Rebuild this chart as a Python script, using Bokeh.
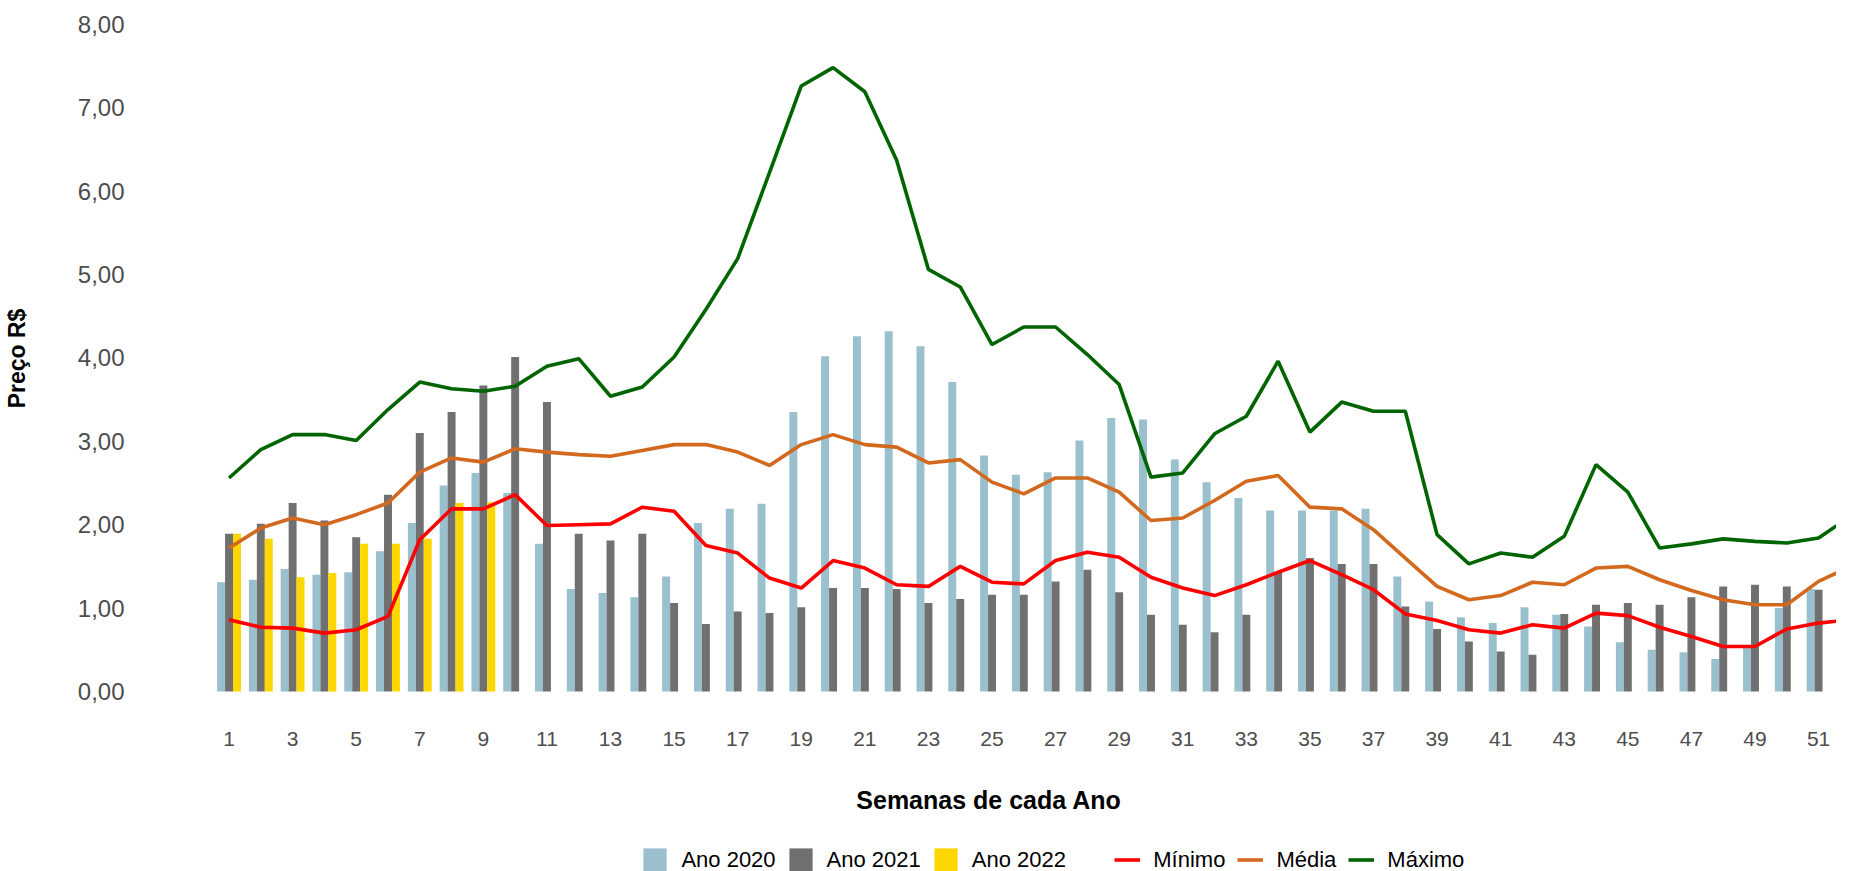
from bokeh.plotting import figure
from bokeh.models import ColumnDataSource, Range1d, FixedTicker, Legend, LegendItem
from bokeh.transform import dodge
from bokeh.layouts import column
from bokeh.embed import file_html
from bokeh.resources import INLINE

# ---------------- data ----------------
semanas = list(range(1, 53))
ano_2020 = [1.31, 1.34, 1.47, 1.40, 1.43, 1.68, 2.02, 2.47, 2.62, 2.38,
            1.77, 1.23, 1.18, 1.13, 1.38, 2.02, 2.19, 2.25, 3.35, 4.02,
            4.26, 4.32, 4.14, 3.71, 2.83, 2.60, 2.63, 3.01, 3.28, 3.26,
            2.78, 2.51, 2.32, 2.17, 2.17, 2.17, 2.19, 1.38, 1.08, 0.89,
            0.82, 1.01, 0.92, 0.78, 0.59, 0.50, 0.47, 0.39, 0.55, 1.00,
            1.23, 1.44]
ano_2021 = [1.89, 2.01, 2.26, 2.05, 1.85, 2.36, 3.10, 3.35, 3.67, 4.01,
            3.47, 1.89, 1.81, 1.89, 1.06, 0.81, 0.96, 0.94, 1.01, 1.24,
            1.24, 1.23, 1.06, 1.11, 1.16, 1.16, 1.32, 1.46, 1.19, 0.92,
            0.80, 0.71, 0.92, 1.43, 1.60, 1.53, 1.53, 1.02, 0.75, 0.60,
            0.48, 0.44, 0.93, 1.04, 1.06, 1.04, 1.13, 1.26, 1.28, 1.26,
            1.22, 1.30]
semanas_2022 = list(range(1, 10))
ano_2022 = [1.89, 1.83, 1.37, 1.42, 1.77, 1.77, 1.83, 2.26, 2.27]
minimo = [0.86, 0.77, 0.76, 0.70, 0.74, 0.90, 1.82, 2.19, 2.19, 2.36,
          1.99, 2.00, 2.01, 2.21, 2.16, 1.75, 1.66, 1.36, 1.24, 1.57,
          1.48, 1.28, 1.26, 1.50, 1.31, 1.29, 1.57, 1.67, 1.61, 1.37,
          1.24, 1.15, 1.28, 1.43, 1.57, 1.40, 1.22, 0.93, 0.85, 0.74,
          0.70, 0.80, 0.76, 0.94, 0.91, 0.77, 0.66, 0.54, 0.54, 0.75,
          0.82, 0.86]
media = [1.72, 1.96, 2.08, 2.00, 2.12, 2.26, 2.63, 2.80, 2.75, 2.91,
         2.87, 2.84, 2.82, 2.89, 2.96, 2.96, 2.87, 2.71, 2.96, 3.08,
         2.96, 2.93, 2.74, 2.78, 2.51, 2.37, 2.56, 2.56, 2.39, 2.05,
         2.08, 2.29, 2.52, 2.59, 2.21, 2.19, 1.94, 1.60, 1.26, 1.10,
         1.15, 1.31, 1.28, 1.48, 1.50, 1.34, 1.21, 1.10, 1.04, 1.04,
         1.32, 1.50]
maximo = [2.56, 2.90, 3.08, 3.08, 3.01, 3.38, 3.71, 3.63, 3.60, 3.66,
          3.90, 3.99, 3.54, 3.65, 4.01, 4.58, 5.19, 6.22, 7.26, 7.48,
          7.19, 6.37, 5.06, 4.85, 4.16, 4.37, 4.37, 4.04, 3.68, 2.57,
          2.62, 3.09, 3.30, 3.96, 3.11, 3.47, 3.36, 3.36, 1.88, 1.53,
          1.66, 1.61, 1.86, 2.72, 2.39, 1.72, 1.77, 1.83, 1.80, 1.78,
          1.84, 2.10]
x_ticks = list(range(1, 52, 2))
y_ticks = [0, 1, 2, 3, 4, 5, 6, 7, 8]
y_tick_labels = ["0,00", "1,00", "2,00", "3,00", "4,00", "5,00", "6,00", "7,00", "8,00"]

C2020, C2021, C2022 = "#9ABFCD", "#707070", "#FFD700"
CMIN, CMED, CMAX = "#FF0000", "#D2691E", "#006400"
LW = 3.6
FONT = "Liberation Sans"

src = ColumnDataSource(dict(semana=semanas, a2020=ano_2020, a2021=ano_2021,
                            minimo=minimo, media=media, maximo=maximo))
src22 = ColumnDataSource(dict(semana=semanas_2022, a2022=ano_2022))


def draw_series(fig):
    r20 = fig.vbar(x=dodge("semana", -0.25), top="a2020", bottom=0, width=0.25,
                   source=src, fill_color=C2020, line_color=None)
    r21 = fig.vbar(x=dodge("semana", 0.0), top="a2021", bottom=0, width=0.25,
                   source=src, fill_color=C2021, line_color=None)
    r22 = fig.vbar(x=dodge("semana", 0.25), top="a2022", bottom=0, width=0.25,
                   source=src22, fill_color=C2022, line_color=None)
    rmin = fig.line("semana", "minimo", source=src, line_color=CMIN, line_width=LW)
    rmed = fig.line("semana", "media", source=src, line_color=CMED, line_width=LW)
    rmax = fig.line("semana", "maximo", source=src, line_color=CMAX, line_width=LW)
    return r20, r21, r22, rmin, rmed, rmax


# ---------------- main figure ----------------
p = figure(width=1836, height=828, output_backend="svg", toolbar_location=None,
           x_range=Range1d(-1.7535, 51.564), y_range=Range1d(-0.1079, 8.0926),
           min_border_left=132, min_border_right=0, min_border_top=16,
           min_border_bottom=128, background_fill_color="white",
           border_fill_color="white", outline_line_color=None)
draw_series(p)

p.xgrid.grid_line_color = None
p.ygrid.grid_line_color = None
for ax in (p.xaxis[0], p.yaxis[0]):
    ax.axis_line_color = None
    ax.major_tick_line_color = None
    ax.minor_tick_line_color = None
    ax.major_label_text_font = FONT
    ax.major_label_text_color = "#4D4D4D"
    ax.axis_label_text_font = FONT
    ax.axis_label_text_font_style = "bold"
    ax.axis_label_text_color = "black"

p.xaxis.ticker = FixedTicker(ticks=x_ticks)
p.xaxis.major_label_text_font_size = "21px"
p.xaxis.major_label_standoff = 25
p.xaxis.axis_label = "Semanas de cada Ano"
p.xaxis.axis_label_text_font_size = "25px"
p.xaxis.axis_label_standoff = 37

p.yaxis.ticker = FixedTicker(ticks=y_ticks)
p.yaxis.major_label_overrides = {t: l for t, l in zip(y_ticks, y_tick_labels)}
p.yaxis.major_label_text_font_size = "24px"
p.yaxis.major_label_standoff = 11
p.yaxis.axis_label = "Preço R$"
p.yaxis.axis_label_text_font_size = "23px"
p.yaxis.axis_label_standoff = 45

# ---------------- legend strip (series kept out of its view range) ----------------
q = figure(width=1836, height=43, output_backend="svg", toolbar_location=None,
           x_range=Range1d(-3, -2), y_range=Range1d(0, 1),
           x_axis_type=None, y_axis_type=None, min_border=0,
           outline_line_color=None, background_fill_color="white",
           border_fill_color="white")
q.grid.visible = False
k20, k21, k22, kmin, kmed, kmax = draw_series(q)

common = dict(orientation="horizontal", glyph_height=29, padding=0, margin=0,
              border_line_color=None, background_fill_alpha=0,
              label_text_font=FONT, label_text_font_size="22px",
              label_text_color="black")
leg1 = Legend(items=[LegendItem(label="Ano 2020", renderers=[k20]),
                     LegendItem(label="Ano 2021", renderers=[k21]),
                     LegendItem(label="Ano 2022", renderers=[k22])],
              location=(499.4, -3.1), glyph_width=29, label_standoff=12,
              spacing=10, **common)
leg2 = Legend(items=[LegendItem(label="Mínimo", renderers=[kmin]),
                     LegendItem(label="Média", renderers=[kmed]),
                     LegendItem(label="Máximo", renderers=[kmax])],
              location=(973.3, -3.1), glyph_width=26, label_standoff=13,
              spacing=12, **common)
q.add_layout(leg1)
q.add_layout(leg2)

layout = column(p, q, spacing=0)
open("out.html", "w").write(file_html(layout, INLINE))
